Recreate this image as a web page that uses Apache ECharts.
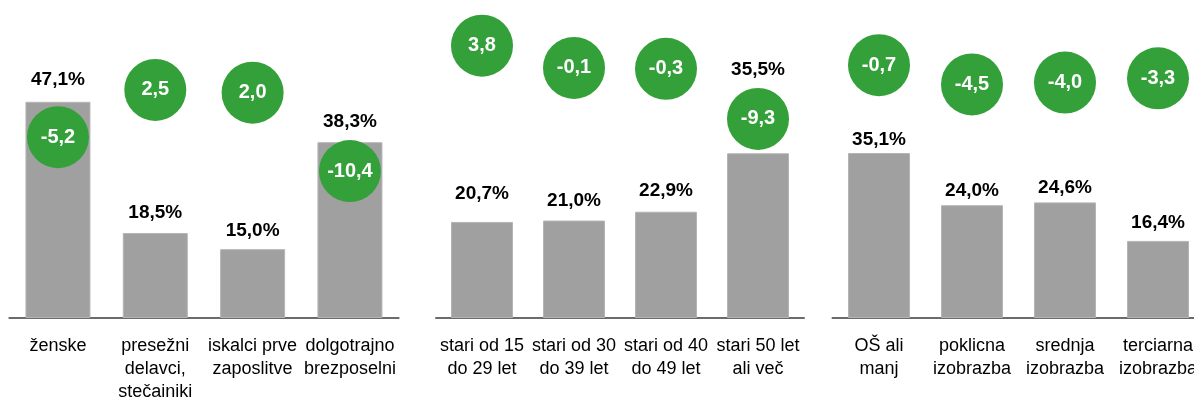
<!DOCTYPE html>
<html>
<head>
<meta charset="utf-8">
<script src="https://cdn.jsdelivr.net/npm/echarts@6/dist/echarts.min.js"></script>
<style>
html,body{margin:0;padding:0;background:#fff;}
#chart{width:1194px;height:403px;}
</style>
</head>
<body>
<div id="chart"></div>
<script>
// Panel 1: groups
var categories1 = ['ženske', 'presežni\ndelavci,\nstečainiki', 'iskalci prve\nzaposlitve', 'dolgotrajno\nbrezposelni'];
var shares1 = [47.1, 18.5, 15.0, 38.3];
var changes1 = [-5.2, 2.5, 2.0, -10.4];
var bubbleLevel1 = [39.4, 49.7, 49.1, 32.0];

// Panel 2: age
var categories2 = ['stari od 15\ndo 29 let', 'stari od 30\ndo 39 let', 'stari od 40\ndo 49 let', 'stari 50 let\nali več'];
var shares2 = [20.7, 21.0, 22.9, 35.5];
var changes2 = [3.8, -0.1, -0.3, -9.3];
var bubbleLevel2 = [58.7, 53.9, 53.7, 42.9];

// Panel 3: education
var categories3 = ['OŠ ali\nmanj', 'poklicna\nizobrazba', 'srednja\nizobrazba', 'terciarna\nizobrazba'];
var shares3 = [35.1, 24.0, 24.6, 16.4];
var changes3 = [-0.7, -4.5, -4.0, -3.3];
var bubbleLevel3 = [53.8, 49.7, 50.1, 51.0];

var FONT = "'Liberation Sans', Arial, sans-serif";

// layout per panel (label distances above bar tops, in px)
var panels = [
  {cats: categories1, shares: shares1, changes: changes1, levels: bubbleLevel1, left: 9.3, width: 389.3, top: 42.6, barWidth: 65, labelDist: [13, 10.5, 8.5, 10.5]},
  {cats: categories2, shares: shares2, changes: changes2, levels: bubbleLevel2, left: 436, width: 368, top: 39.6, barWidth: 62, labelDist: [19, 10, 11, 74]},
  {cats: categories3, shares: shares3, changes: changes3, levels: bubbleLevel3, left: 832.5, width: 372, top: 36, barWidth: 62, labelDist: [4, 5, 5, 9]}
];

function fmt(v) { return v.toFixed(1).replace('.', ','); }

var grids = [], xAxes = [], yAxes = [], series = [];
panels.forEach(function (p, i) {
  grids.push({left: p.left, width: p.width, top: p.top, bottom: 85, containLabel: false, outerBoundsMode: 'none'});
  xAxes.push({
    type: 'category', gridIndex: i, data: p.cats,
    axisLine: {show: true, lineStyle: {color: '#6b6b6b', width: 2}},
    axisTick: {show: false},
    axisLabel: {interval: 0, margin: 17, color: '#000', fontFamily: FONT, fontSize: 18, lineHeight: 23, align: 'center', hideOverlap: false}
  });
  yAxes.push({type: 'value', gridIndex: i, min: 0, max: 60, show: false, splitLine: {show: false}});
  series.push({
    type: 'bar', xAxisIndex: i, yAxisIndex: i,
    data: p.shares.map(function (v, k) {
      return {value: v, label: {distance: p.labelDist[k]}};
    }),
    barWidth: p.barWidth,
    itemStyle: {color: '#a0a0a0', borderColor: '#b4b4b4', borderWidth: 1},
    label: {show: true, position: 'top', color: '#000', fontFamily: FONT, fontWeight: 'bold', fontSize: 19,
      formatter: function (d) { return fmt(d.value) + '%'; }},
    z: 2, silent: true
  });
  series.push({
    type: 'scatter', xAxisIndex: i, yAxisIndex: i,
    data: p.levels.map(function (lv, k) { return [k, lv]; }),
    symbol: 'circle', symbolSize: 62, clip: false,
    itemStyle: {color: '#34a03a', opacity: 1},
    label: {show: true, position: 'inside', color: '#fff', fontFamily: FONT, fontWeight: 'bold', fontSize: 20,
      formatter: (function (ch) { return function (d) { return fmt(ch[d.dataIndex]); }; })(p.changes)},
    z: 5, silent: true
  });
});

var chart = echarts.init(document.getElementById('chart'), null, {renderer: 'canvas'});
chart.setOption({
  animation: false,
  backgroundColor: '#fff',
  grid: grids, xAxis: xAxes, yAxis: yAxes, series: series
});
</script>
</body>
</html>
